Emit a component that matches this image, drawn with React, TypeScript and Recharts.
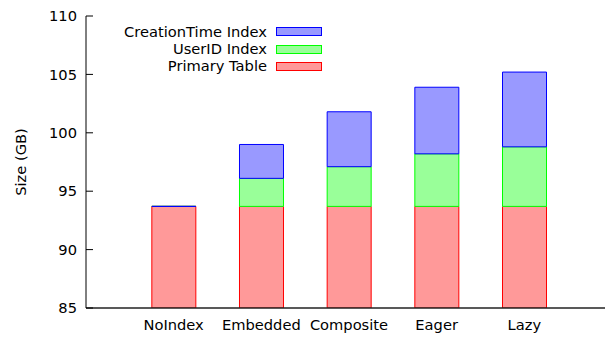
import React from 'react';
import { BarChart, Bar, XAxis, YAxis } from 'recharts';

// Index size study: table plus secondary indexes, in GB
const categories = ['NoIndex', 'Embedded', 'Composite', 'Eager', 'Lazy'];
const primaryTable = [93.7, 93.7, 93.7, 93.7, 93.7];
const userIdIndex = [0, 2.4, 3.4, 4.5, 5.1];
const creationTimeIndex = [0, 2.9, 4.7, 5.7, 6.4];
const yTicks = [85, 90, 95, 100, 105, 110];

const FONT = '"DejaVu Sans", sans-serif';
const FONT_SIZE = 14.67;

const series = [
  { key: 'primary', name: 'Primary Table', fill: '#ff9999', stroke: '#ff0000' },
  { key: 'userId', name: 'UserID Index', fill: '#99ff99', stroke: '#00ff00' },
  { key: 'creationTime', name: 'CreationTime Index', fill: '#9999ff', stroke: '#0000ff' },
];

const data = categories.map((name, i) => ({
  name,
  primary: primaryTable[i],
  userId: userIdIndex[i],
  creationTime: creationTimeIndex[i],
}));

// Outlined box; zero-height segments still show as a line
const BoxShape = (props: any) => {
  const { x, y, width, height, fill, stroke } = props;
  const d = `M${x},${y}h${width}v${height}h${-width}Z`;
  return <path d={d} fill={fill} stroke={stroke} strokeWidth={1} />;
};

const NoTick = () => <g />;

const YLabel = (props: any) => {
  const vb = props.viewBox || {};
  const cx = 20.5;
  const cy = (vb.y ?? 16) + (vb.height ?? 292) / 2;
  return (
    <text
      x={cx}
      y={cy}
      transform={`rotate(-90 ${cx} ${cy})`}
      textAnchor="middle"
      dominantBaseline="central"
      fontFamily={FONT}
      fontSize={FONT_SIZE}
      fill="#000"
    >
      Size (GB)
    </text>
  );
};

const legendRows = [...series].reverse();

// Key in the upper left of the plot: label, then a swatch
const KeyBox = () => (
  <div
    style={{
      position: 'absolute',
      left: 0,
      top: 0,
      width: 340,
      height: 80,
      fontFamily: FONT,
      fontSize: FONT_SIZE,
      color: '#000',
      pointerEvents: 'none',
    }}
  >
    {legendRows.map((s, i) => {
      const cy = 31.7 + i * 17.3;
      return (
        <div key={s.key}>
          <span
            style={{
              position: 'absolute',
              left: 0,
              width: 267,
              top: cy - 9,
              height: 18,
              lineHeight: '18px',
              textAlign: 'right',
              whiteSpace: 'nowrap',
            }}
          >
            {s.name}
          </span>
          <span
            style={{
              position: 'absolute',
              left: 276,
              top: cy - 4.5,
              width: 46,
              height: 9,
              boxSizing: 'border-box',
              border: `1px solid ${s.stroke}`,
              background: s.fill,
            }}
          />
        </div>
      );
    })}
  </div>
);

export default function App() {
  const tickStyle = { fontFamily: FONT, fontSize: FONT_SIZE, fill: '#000' };
  return (
    <div
      style={{
        position: 'absolute',
        left: 0,
        top: 0,
        width: 605,
        height: 339,
        overflow: 'hidden',
        background: '#fff',
      }}
    >
      <BarChart width={620} height={339} data={data} margin={{ top: 16, right: 8, bottom: 0, left: 0 }} barSize={44}>
        <XAxis
          dataKey="name"
          height={31}
          padding={{ left: 43.83, right: 43.83 }}
          tickLine={false}
          tickSize={6}
          tickMargin={5.6}
          tick={tickStyle}
          axisLine={{ stroke: '#222', strokeWidth: 1.6 }}
          interval={0}
        />
        <XAxis
          xAxisId="top"
          dataKey="name"
          orientation="top"
          height={0}
          mirror
          padding={{ left: 43.83, right: 43.83 }}
          tickSize={7}
          tick={NoTick}
          tickLine={{ stroke: '#000' }}
          axisLine={{ stroke: '#000' }}
          interval={0}
        />
        <YAxis
          width={86}
          domain={[85, 110]}
          ticks={yTicks}
          allowDataOverflow
          tickSize={-7}
          tickMargin={16}
          tick={tickStyle}
          tickLine={{ stroke: '#000' }}
          axisLine={{ stroke: '#000' }}
          label={{ content: YLabel }}
        />
        <YAxis
          yAxisId="right"
          orientation="right"
          width={0}
          mirror
          domain={[85, 110]}
          ticks={yTicks}
          allowDataOverflow
          tickSize={7}
          tick={NoTick}
          tickLine={{ stroke: '#000' }}
          axisLine={{ stroke: '#000' }}
        />
        {series.map((s) => (
          <Bar
            key={s.key}
            dataKey={s.key}
            name={s.name}
            stackId="size"
            fill={s.fill}
            stroke={s.stroke}
            shape={BoxShape}
            isAnimationActive={false}
          />
        ))}
      </BarChart>
      <KeyBox />
    </div>
  );
}
